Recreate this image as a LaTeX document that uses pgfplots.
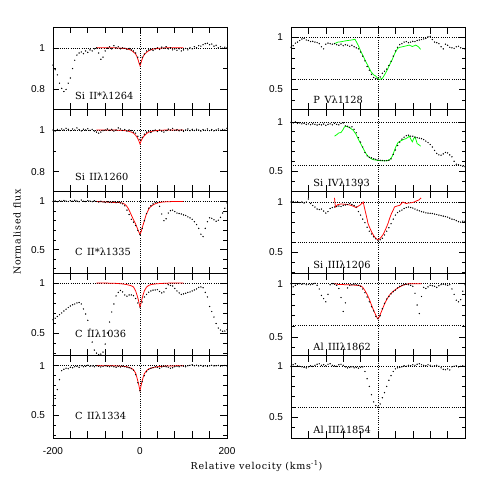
\documentclass[border=0pt]{standalone}
\usepackage{pgfplots}
\pgfplotsset{compat=1.18}
\usepackage{fontspec}
\setmainfont{DejaVu Serif}
\newfontfamily\tickfont{Liberation Sans}
\newfontfamily\ttlfont[LetterSpace=8]{DejaVu Serif}
\newcommand\labfont{\fontsize{9.8}{11}\selectfont}
\newcommand\titlefont{\ttlfont\fontsize{9.5}{11}\selectfont}
\tikzset{lab/.style={anchor=west, inner sep=0pt, font=\labfont}}
\pgfplotsset{
 panel/.style={scale only axis, width=174pt, height=82.2pt, anchor=south west,
   xmin=-200, xmax=200, xtick={-200,-160,...,200}, xticklabels={},
   tick align=inside, tick pos=both,
   major tick length=6.5pt, minor tick length=3.5pt,
   every tick/.style={black, line width=0.6pt},
   axis line style={line width=0.8pt},
   tick label style={font=\tickfont\fontsize{10}{12}\selectfont},
   yticklabel style={xshift=-4.5pt},
   xticklabel style={yshift=-6pt},
 },
 hi/.style={ytick={0.8,1}, yticklabels={0.8,1}, minor ytick={0.9}},
 lo/.style={ytick={0.5,1}, yticklabels={0.5,1}, minor ytick={0.3,0.4,0.6,0.7,0.8,0.9}},
 blk/.style={only marks, mark=*, mark size=0.42pt, mark options={draw=none, fill=black}},
 fitr/.style={red, line width=0.75pt, mark=none},
 fitg/.style={green, line width=0.75pt, mark=none},
 refl/.style={black, line width=0.5pt, dash pattern=on 0.6pt off 1.6pt, mark=none},
}
\begin{document}
\begin{tikzpicture}[x=1pt,y=1pt]
\useasboundingbox (0,0) rectangle (491,491);

% ---------------- Left 1: Si II* 1264
\begin{axis}[panel, hi, at={(53pt,381.8pt)}, ymin=0.705, ymax=1.1]
\addplot[refl] coordinates {(0,0) (0,2)};
\addplot[refl] coordinates {(-200,1) (200,1)};
\addplot[blk] coordinates {
(-200,0.917)(-195,0.895)(-190,0.87)(-185,0.83)(-180,0.805)(-175,0.79)(-170,0.80)(-165,0.83)(-160,0.855)
(-155,0.90)(-150,0.94)(-145,0.965)(-140,0.975)(-135,0.98)(-130,0.972)(-125,0.985)(-120,0.978)(-115,0.99)
(-110,0.985)(-105,0.995)(-100,1.0)(-95,0.975)(-90,0.945)(-85,0.955)(-80,0.985)(-75,0.998)(-70,1.005)
(-65,0.995)(-60,1.01)(-55,1.0)(-50,1.005)(-45,0.995)(-40,1.0)(-35,0.998)(-30,0.993)(-25,0.997)(-20,0.99)
(-15,0.985)(-10,0.975)(-5,0.955)(0,0.925)(5,0.955)(10,0.97)(15,0.985)(20,0.99)(25,0.993)(30,0.987)
(35,0.995)(40,1.0)(45,0.992)(50,1.003)(55,0.998)(60,1.005)(65,0.995)(70,1.0)(75,0.99)(80,0.995)
(85,0.988)(90,0.995)(95,0.985)(100,0.99)(105,0.997)(110,0.99)(115,1.0)(120,0.995)(125,1.005)(130,1.0)
(135,1.01)(140,1.008)(145,1.015)(150,1.02)(155,1.022)(160,1.015)(165,1.018)(170,1.008)(175,1.012)
(180,1.0)(185,1.005)(190,0.998)(195,1.003)(200,1.0)};
\addplot[fitr] coordinates {
(-100,1)(-80,1)(-60,1)(-50,0.999)(-40,0.998)(-30,0.995)(-25,0.992)(-20,0.988)(-15,0.98)(-10,0.97)
(-7,0.958)(-4,0.94)(-2,0.925)(0,0.914)(2,0.925)(4,0.94)(7,0.957)(10,0.968)(15,0.978)(20,0.986)
(25,0.99)(30,0.994)(40,0.997)(50,0.999)(60,1)(80,1)(100,1)};
\node[lab] at (rel axis cs:0.126,0.16) {Si\hspace{4.5pt}II*λ1264};
\end{axis}

% ---------------- Left 2: Si II 1260
\begin{axis}[panel, hi, at={(53pt,299.6pt)}, ymin=0.705, ymax=1.1]
\addplot[refl] coordinates {(0,0) (0,2)};
\addplot[refl] coordinates {(-200,1) (200,1)};
\addplot[blk] coordinates {
(-200,1.0)(-195,0.995)(-190,1.003)(-185,0.998)(-180,1.005)(-175,1.0)(-170,1.008)(-165,1.003)(-160,0.997)
(-155,1.005)(-150,1.0)(-145,1.01)(-140,1.002)(-135,0.996)(-130,1.004)(-125,1.0)(-120,1.006)(-115,0.998)
(-110,1.003)(-105,0.995)(-100,0.99)(-95,0.985)(-90,0.99)(-85,0.997)(-80,1.0)(-75,1.005)(-70,0.998)
(-65,1.003)(-60,0.995)(-55,1.0)(-50,1.01)(-45,1.005)(-40,0.998)(-35,1.002)(-30,0.995)(-25,1.0)(-20,0.997)
(-15,0.99)(-10,0.985)(-5,0.97)(0,0.955)(5,0.965)(10,0.98)(15,0.99)(20,0.995)(25,0.988)(30,0.997)
(35,1.0)(40,0.993)(45,1.0)(50,0.995)(55,0.99)(60,0.997)(65,1.004)(70,1.0)(75,1.008)(80,0.998)
(85,1.002)(90,0.996)(95,1.0)(100,0.993)(105,1.0)(110,1.005)(115,0.997)(120,1.003)(125,0.998)(130,1.004)
(135,1.0)(140,0.995)(145,1.002)(150,0.998)(155,1.005)(160,0.997)(165,1.002)(170,0.996)(175,1.0)
(180,1.005)(185,0.998)(190,1.003)(195,1.0)(200,1.008)};
\addplot[fitr] coordinates {
(-100,1)(-60,1)(-40,0.998)(-30,0.996)(-20,0.99)(-15,0.985)(-10,0.975)(-6,0.963)(-3,0.95)(0,0.933)
(3,0.95)(6,0.962)(10,0.973)(15,0.983)(20,0.99)(30,0.995)(40,0.998)(60,1)(100,1)};
\node[lab] at (rel axis cs:0.126,0.175) {Si\hspace{4.5pt}IIλ1260};
\end{axis}

% ---------------- Left 3: C II* 1335
\begin{axis}[panel, lo, at={(53pt,217.4pt)}, ymin=0.25, ymax=1.105]
\addplot[refl] coordinates {(0,0) (0,2)};
\addplot[refl] coordinates {(-200,1) (200,1)};
\addplot[blk] coordinates {
(-200,1.0)(-195,1.005)(-190,0.998)(-185,1.008)(-180,1.003)(-175,1.01)(-170,1.005)(-165,1.0)(-160,1.008)
(-155,1.003)(-150,1.012)(-145,1.005)(-140,0.998)(-135,1.015)(-130,1.003)(-125,1.0)(-120,1.01)(-115,1.005)
(-110,0.998)(-105,1.008)(-100,1.0)(-95,0.995)(-90,1.002)(-85,0.995)(-80,0.99)(-75,0.998)(-70,0.992)
(-65,0.99)(-60,0.997)(-55,0.988)(-50,0.993)(-45,0.985)(-40,0.975)(-35,0.955)(-30,0.91)(-25,0.865)
(-20,0.815)(-15,0.785)(-10,0.75)(-5,0.70)(0,0.655)(5,0.72)(10,0.80)(15,0.875)(20,0.93)(25,0.955)
(30,0.975)(35,0.99)(40,0.99)(45,0.95)(50,0.87)(55,0.80)(60,0.82)(65,0.88)(70,0.905)(75,0.91)(80,0.895)
(85,0.88)(90,0.875)(95,0.87)(100,0.86)(105,0.855)(110,0.84)(115,0.83)(120,0.815)(125,0.79)(130,0.76)
(135,0.72)(140,0.66)(145,0.635)(150,0.72)(155,0.79)(160,0.83)(165,0.825)(170,0.81)(175,0.795)
(180,0.805)(185,0.835)(190,0.88)(195,0.93)(200,0.985)};
\addplot[fitr] coordinates {
(-100,1.0)(-80,0.995)(-60,0.99)(-45,0.988)(-38,0.98)(-32,0.96)(-28,0.935)(-24,0.9)(-20,0.86)(-15,0.81)
(-10,0.765)(-6,0.72)(-3,0.685)(0,0.66)(3,0.69)(6,0.74)(10,0.80)(14,0.86)(18,0.9)(22,0.935)(27,0.955)
(32,0.97)(40,0.985)(50,0.993)(60,0.997)(80,1.0)(100,1.0)};
\node[lab] at (rel axis cs:0.126,0.27) {C\hspace{4.5pt}II*λ1335};
\end{axis}

% ---------------- Left 4: C II 1036
\begin{axis}[panel, lo, at={(53pt,135.2pt)}, ymin=0.273, ymax=1.093]
\addplot[refl] coordinates {(0,0) (0,2)};
\addplot[refl] coordinates {(-200,1) (200,1)};
\addplot[blk] coordinates {
(-200,0.633)(-195,0.648)(-190,0.665)(-185,0.683)(-180,0.70)(-175,0.72)(-170,0.738)(-165,0.755)(-160,0.77)
(-155,0.782)(-150,0.79)(-145,0.80)(-140,0.805)(-135,0.79)(-130,0.74)(-125,0.69)(-120,0.627)(-115,0.54)
(-110,0.41)(-105,0.33)(-100,0.30)(-95,0.285)(-90,0.29)(-85,0.31)(-80,0.39)(-75,0.50)(-70,0.61)
(-65,0.71)(-60,0.79)(-55,0.87)(-50,0.905)(-45,0.925)(-40,0.91)(-35,0.88)(-30,0.868)(-25,0.88)(-20,0.88)
(-15,0.873)(-10,0.845)(-5,0.80)(0,0.76)(5,0.81)(10,0.86)(15,0.885)(20,0.907)(25,0.92)(30,0.928)
(35,0.93)(40,0.933)(45,0.915)(50,0.90)(55,0.91)(60,0.945)(65,0.983)(70,0.975)(75,0.97)(80,0.945)
(85,0.92)(90,0.90)(95,0.885)(100,0.89)(105,0.897)(110,0.905)(115,0.91)(120,0.92)(125,0.93)(130,0.94)
(135,0.955)(140,0.96)(145,0.952)(150,0.905)(155,0.86)(160,0.765)(165,0.715)(170,0.66)(175,0.595)
(180,0.55)(185,0.53)(190,0.518)(195,0.52)(200,0.533)};
\addplot[fitr] coordinates {
(-100,1.0)(-60,0.997)(-40,0.99)(-30,0.983)(-20,0.972)(-15,0.96)(-10,0.92)(-7,0.88)(-4,0.835)(-2,0.795)
(0,0.76)(2,0.79)(4,0.83)(7,0.88)(10,0.92)(15,0.958)(20,0.975)(25,0.983)(35,0.99)(50,0.995)(70,0.999)(100,1.0)};
\node[lab] at (rel axis cs:0.126,0.27) {C\hspace{4.5pt}IIλ1036};
\end{axis}

% ---------------- Left 5: C II 1334
\begin{axis}[panel, lo, at={(53pt,53pt)}, ymin=0.273, ymax=1.1,
  xticklabels={-200,,,,,0,,,,,200}]
\addplot[refl] coordinates {(0,0) (0,2)};
\addplot[refl] coordinates {(-200,1) (200,1)};
\addplot[blk] coordinates {
(-200,0.60)(-195,0.67)(-190,0.76)(-185,0.86)(-180,0.95)(-175,0.965)(-170,0.975)(-165,0.97)(-160,0.985)
(-155,0.98)(-150,0.99)(-145,0.995)(-140,0.985)(-135,1.0)(-130,0.99)(-125,0.995)(-120,1.005)(-115,0.993)
(-110,0.998)(-105,0.99)(-100,1.0)(-95,0.995)(-90,0.988)(-85,0.993)(-80,1.0)(-75,0.995)(-70,0.99)
(-65,0.997)(-60,0.99)(-55,0.985)(-50,0.992)(-45,0.988)(-40,0.995)(-35,0.99)(-30,0.985)(-25,0.98)
(-20,0.97)(-15,0.955)(-10,0.91)(-5,0.83)(0,0.75)(5,0.84)(10,0.90)(15,0.94)(20,0.963)(25,0.975)
(30,0.98)(35,0.99)(40,0.985)(45,0.975)(50,0.988)(55,0.995)(60,0.99)(65,0.985)(70,0.975)(75,0.98)
(80,0.99)(85,0.995)(90,0.99)(95,1.0)(100,0.995)(105,0.99)(110,1.0)(115,1.005)(120,1.01)(125,1.0)
(130,1.005)(135,0.998)(140,1.003)(145,0.995)(150,1.0)(155,0.993)(160,1.0)(165,1.005)(170,0.998)
(175,1.0)(180,1.003)(185,0.995)(190,1.0)(195,1.003)(200,0.998)};
\addplot[fitr] coordinates {
(-100,1)(-60,0.999)(-40,0.995)(-30,0.99)(-20,0.975)(-15,0.96)(-10,0.925)(-7,0.88)(-4,0.83)(-2,0.79)
(0,0.75)(2,0.79)(4,0.83)(7,0.88)(10,0.92)(15,0.95)(20,0.968)(30,0.982)(40,0.99)(60,0.997)(100,1)};
\node[lab] at (rel axis cs:0.126,0.27) {C\hspace{4.5pt}IIλ1334};
\end{axis}

% ================= Right column
% ---------------- Right 1: P V 1128
\begin{axis}[panel, lo, at={(291pt,381.8pt)}, ymin=0.31, ymax=1.1]
\addplot[refl] coordinates {(0,0) (0,2)};
\addplot[refl] coordinates {(-200,1) (200,1)};
\addplot[refl] coordinates {(-200,0.6) (200,0.6)};
\addplot[blk] coordinates {
(-200,0.905)(-195,0.92)(-190,0.945)(-185,0.955)(-180,0.97)(-175,0.985)(-170,0.99)(-165,0.975)(-160,0.97)
(-155,0.96)(-150,0.962)(-145,0.955)(-140,0.95)(-135,0.94)(-130,0.91)(-125,0.89)(-120,0.935)(-115,0.945)
(-110,0.94)(-105,0.935)(-100,0.94)(-95,0.93)(-90,0.925)(-85,0.935)(-80,0.92)(-75,0.93)(-70,0.925)
(-65,0.915)(-60,0.925)(-55,0.91)(-50,0.9)(-45,0.89)(-40,0.86)(-35,0.82)(-30,0.775)(-25,0.72)(-20,0.685)
(-15,0.645)(-10,0.615)(-5,0.605)(0,0.60)(5,0.62)(10,0.655)(15,0.675)(20,0.695)(25,0.73)(30,0.77)
(35,0.82)(40,0.87)(45,0.905)(50,0.93)(55,0.94)(60,0.955)(65,0.96)(70,0.95)(75,0.955)(80,0.962)
(85,0.96)(90,0.97)(95,0.975)(100,0.98)(105,0.985)(110,0.99)(115,1.005)(120,1.01)(125,0.98)(130,0.955)
(135,0.95)(140,0.94)(145,0.91)(150,0.89)(155,0.935)(160,0.925)(165,0.905)(170,0.9)(175,0.895)
(180,0.91)(185,0.915)(190,0.9)(195,0.893)(200,0.89)};
\addplot[fitg] coordinates {
(-100,0.94)(-92,0.955)(-85,0.958)(-77,0.965)(-70,0.97)(-60,0.975)(-53,0.982)(-50,0.96)(-45,0.92)
(-40,0.87)(-34,0.82)(-28,0.766)(-22,0.72)(-16,0.67)(-10,0.64)(-5,0.628)(0,0.605)(3,0.596)(10,0.606)
(15,0.64)(21,0.686)(27,0.74)(33,0.79)(39,0.85)(45,0.894)(50,0.905)(56,0.91)(64,0.918)(72,0.926)
(79,0.912)(87,0.926)(93,0.91)(98,0.885)};
\node[lab] at (rel axis cs:0.128,0.11) {P\hspace{4.5pt}Vλ1128};
\end{axis}

% ---------------- Right 2: Si IV 1393
\begin{axis}[panel, lo, at={(291pt,299.6pt)}, ymin=0.294, ymax=1.129]
\addplot[refl] coordinates {(0,0) (0,2)};
\addplot[refl] coordinates {(-200,1) (200,1)};
\addplot[refl] coordinates {(-200,0.555) (200,0.555)};
\addplot[blk] coordinates {
(-200,0.995)(-195,0.99)(-190,1.0)(-185,0.985)(-180,0.99)(-175,0.98)(-170,0.985)(-165,0.975)(-160,0.98)
(-155,0.972)(-150,0.98)(-145,0.975)(-140,0.968)(-135,0.975)(-130,0.97)(-125,0.978)(-120,0.965)(-115,0.975)
(-110,0.98)(-105,0.97)(-100,0.985)(-95,0.975)(-90,0.97)(-85,0.985)(-80,0.99)(-75,0.96)(-70,0.955)
(-65,0.945)(-60,0.95)(-55,0.925)(-50,0.89)(-45,0.84)(-40,0.795)(-35,0.745)(-30,0.69)(-25,0.655)
(-20,0.64)(-15,0.635)(-10,0.625)(-5,0.62)(0,0.612)(5,0.61)(10,0.608)(15,0.605)(20,0.607)(25,0.61)
(30,0.625)(35,0.67)(40,0.715)(45,0.76)(50,0.795)(55,0.825)(60,0.845)(65,0.86)(70,0.865)(75,0.855)
(80,0.855)(85,0.845)(90,0.84)(95,0.835)(100,0.83)(105,0.82)(110,0.805)(115,0.79)(120,0.77)(125,0.745)
(130,0.71)(135,0.68)(140,0.665)(145,0.662)(150,0.675)(155,0.69)(160,0.685)(165,0.665)(170,0.645)
(175,0.6)(180,0.57)(185,0.565)(190,0.558)(195,0.55)(200,0.545)};
\addplot[fitg] coordinates {
(-100,0.855)(-95,0.87)(-90,0.888)(-85,0.892)(-80,0.925)(-77,0.95)(-72,0.955)(-65,0.94)(-57,0.916)
(-50,0.87)(-46,0.83)(-40,0.78)(-34,0.73)(-28,0.68)(-23,0.652)(-17,0.63)(-12,0.618)(0,0.608)(10,0.605)
(21,0.605)(28,0.62)(33,0.652)(37,0.7)(41,0.747)(46,0.79)(52,0.807)(58,0.82)(64,0.83)(68,0.84)
(72,0.855)(76,0.82)(79,0.797)(82,0.83)(85,0.848)(88,0.81)(90,0.78)(95,0.765)(98,0.753)};
\node[lab] at (rel axis cs:0.128,0.10) {Si\hspace{4.5pt}IVλ1393};
\end{axis}

% ---------------- Right 3: Si III 1206
\begin{axis}[panel, lo, at={(291pt,217.4pt)}, ymin=0.29, ymax=1.105]
\addplot[refl] coordinates {(0,0) (0,2)};
\addplot[refl] coordinates {(-200,1) (200,1)};
\addplot[refl] coordinates {(-200,0.6) (200,0.6)};
\addplot[blk] coordinates {
(-200,1.0)(-195,1.005)(-190,0.998)(-185,1.003)(-180,0.995)(-175,1.0)(-170,0.99)(-165,1.0)(-160,1.03)
(-155,0.985)(-150,0.965)(-145,0.95)(-140,0.93)(-135,0.925)(-130,0.93)(-125,0.91)(-120,0.89)(-115,0.905)
(-110,0.935)(-105,0.945)(-100,0.95)(-95,0.955)(-90,0.96)(-85,0.955)(-80,0.965)(-75,0.97)(-70,0.975)
(-65,0.985)(-60,0.975)(-55,0.965)(-50,0.95)(-45,0.905)(-40,0.87)(-35,0.83)(-30,0.795)(-25,0.75)
(-20,0.71)(-15,0.683)(-10,0.655)(-5,0.635)(0,0.618)(5,0.625)(10,0.64)(15,0.673)(20,0.71)(25,0.745)
(30,0.785)(35,0.83)(40,0.87)(45,0.895)(50,0.91)(55,0.92)(60,0.935)(65,0.945)(70,0.95)(75,0.945)
(80,0.94)(85,0.93)(90,0.92)(95,0.912)(100,0.905)(105,0.9)(110,0.892)(115,0.89)(120,0.888)(125,0.886)
(130,0.88)(135,0.876)(140,0.87)(145,0.865)(150,0.86)(155,0.855)(160,0.85)(165,0.84)(170,0.83)
(175,0.825)(180,0.815)(185,0.805)(190,0.80)(195,0.81)(200,0.808)};
\addplot[fitr] coordinates {
(-100,1.04)(-98,0.95)(-92,0.975)(-85,0.98)(-73,0.977)(-65,0.97)(-61,0.965)(-55,0.955)(-50,0.944)
(-45,0.96)(-42,0.967)(-36,0.99)(-34,1.0)(-31,0.94)(-28,0.886)(-25,0.83)(-23,0.787)(-19,0.745)
(-15,0.706)(-11,0.675)(-8,0.655)(-4,0.635)(0,0.624)(4,0.635)(8,0.655)(12,0.68)(15,0.706)(19,0.745)
(23,0.787)(27,0.84)(31,0.886)(35,0.92)(38,0.951)(44,0.96)(50,0.967)(54,0.985)(57,1.0)(62,0.99)
(65,0.985)(70,0.99)(76,0.992)(82,0.998)(88,1.01)(94,1.02)(99,1.04)};
\node[lab] at (rel axis cs:0.128,0.11) {Si\hspace{4.5pt}IIIλ1206};
\end{axis}

% ---------------- Right 4: Al III 1862
\begin{axis}[panel, lo, at={(291pt,135.2pt)}, ymin=0.325, ymax=1.094]
\addplot[refl] coordinates {(0,0) (0,2)};
\addplot[refl] coordinates {(-200,1) (200,1)};
\addplot[refl] coordinates {(-200,0.615) (200,0.615)};
\addplot[blk] coordinates {
(-200,1.0)(-195,0.97)(-190,0.985)(-185,0.995)(-180,1.0)(-175,0.995)(-170,1.0)(-165,0.99)(-160,0.995)
(-155,0.99)(-150,0.995)(-145,1.003)(-140,0.985)(-135,0.95)(-130,0.89)(-125,0.86)(-120,0.83)(-115,0.9)
(-110,0.99)(-105,1.0)(-100,0.995)(-95,0.985)(-90,0.955)(-85,0.87)(-80,0.74)(-75,0.82)(-70,0.96)
(-65,0.985)(-60,0.99)(-55,0.995)(-50,0.99)(-45,0.985)(-40,0.975)(-35,0.95)(-30,0.915)(-25,0.875)
(-20,0.83)(-15,0.785)(-10,0.745)(-5,0.694)(0,0.672)(5,0.70)(10,0.765)(15,0.815)(20,0.856)(25,0.88)
(30,0.905)(35,0.925)(40,0.94)(45,0.96)(50,0.975)(55,0.985)(60,0.99)(65,0.995)(70,0.99)(75,0.985)
(80,0.975)(85,0.91)(90,0.80)(95,0.72)(100,0.88)(105,0.965)(110,0.955)(115,0.97)(120,0.985)(125,0.98)
(130,0.975)(135,0.965)(140,0.98)(145,0.99)(150,0.995)(155,0.99)(160,0.985)(165,0.99)(170,0.95)
(175,0.9)(180,0.845)(185,0.83)(190,0.85)(195,0.93)(200,0.99)};
\addplot[fitr] coordinates {
(-100,1.0)(-90,0.992)(-70,0.99)(-50,0.985)(-40,0.98)(-35,0.965)(-30,0.935)(-25,0.9)(-20,0.855)
(-15,0.8)(-10,0.75)(-5,0.705)(-2,0.68)(0,0.67)(3,0.69)(6,0.72)(10,0.76)(15,0.81)(20,0.85)(25,0.885)
(30,0.91)(40,0.945)(50,0.97)(60,0.99)(70,0.998)(100,1.0)};
\node[lab] at (rel axis cs:0.128,0.106) {Al\hspace{4.5pt}IIIλ1862};
\end{axis}

% ---------------- Right 5: Al III 1854
\begin{axis}[panel, lo, at={(291pt,53pt)}, ymin=0.30, ymax=1.097]
\addplot[refl] coordinates {(0,0) (0,2)};
\addplot[refl] coordinates {(-200,1) (200,1)};
\addplot[refl] coordinates {(-200,0.6) (200,0.6)};
\addplot[blk] coordinates {
(-200,0.995)(-195,1.01)(-190,1.02)(-185,1.0)(-180,0.995)(-175,0.99)(-170,0.985)(-165,0.98)(-160,0.99)
(-155,1.0)(-150,0.995)(-145,1.005)(-140,1.015)(-135,1.02)(-130,1.005)(-125,1.01)(-120,1.0)(-115,1.015)
(-110,1.02)(-105,1.005)(-100,1.0)(-95,0.995)(-90,1.01)(-85,1.015)(-80,1.005)(-75,0.99)(-70,0.98)
(-65,0.985)(-60,0.99)(-55,0.98)(-50,0.985)(-45,0.977)(-40,0.985)(-35,0.99)(-30,0.945)(-25,0.875)
(-20,0.80)(-15,0.72)(-10,0.65)(-5,0.615)(0,0.60)(5,0.63)(10,0.69)(15,0.74)(20,0.80)(25,0.86)
(30,0.905)(35,0.945)(40,0.97)(45,0.98)(50,0.985)(55,0.99)(60,1.0)(65,0.995)(70,1.005)(75,1.0)
(80,1.01)(85,1.005)(90,1.015)(95,1.02)(100,1.01)(105,1.005)(110,1.0)(115,1.01)(120,1.005)(125,0.995)
(130,1.0)(135,1.005)(140,0.995)(145,0.98)(150,0.965)(155,0.962)(160,0.97)(165,0.96)(170,0.99)
(175,0.995)(180,1.0)(185,0.99)(190,0.995)(195,1.0)(200,0.995)};
\node[lab] at (rel axis cs:0.128,0.10) {Al\hspace{4.5pt}IIIλ1854};
\end{axis}

\node[font=\titlefont, rotate=90] at (17,259) {Normalised flux};
\node[font=\titlefont] at (256.5,25) {Relative velocity (kms\textsuperscript{-1})};
\end{tikzpicture}
\end{document}
